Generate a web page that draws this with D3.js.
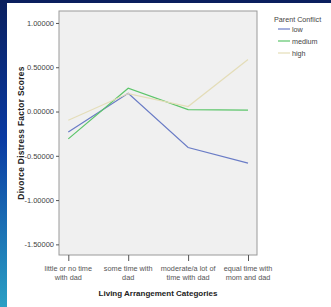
<!DOCTYPE html>
<html><head><meta charset="utf-8">
<script src="https://cdn.jsdelivr.net/npm/d3@7"></script>
<style>body{margin:0;background:#fff;}svg{display:block;}</style>
</head><body>
<script>
const categories = [["little or no time","with dad"],["some time with","dad"],["moderate/a lot of","time with dad"],["equal time with","mom and dad"]];
const seriesNames = ["low","medium","high"];
const low = [-0.23, 0.207, -0.406, -0.583];
const medium = [-0.309, 0.263, 0.022, 0.015];
const high = [-0.098, 0.203, 0.056, 0.587];
const yTicks = [1.0, 0.5, 0.0, -0.5, -1.0, -1.5];
const colors = ["#6a7cc6", "#5cc56a", "#e4ddb8"];
const series = [low, medium, high];

(function(){
const W = 331, H = 307;
const FN = "'Liberation Sans Narrow', 'Arial Narrow', 'Liberation Sans', sans-serif";
const FB = "'Liberation Sans', Arial, sans-serif";
const svg = d3.select("body").append("svg").attr("width", W).attr("height", H);
const defs = svg.append("defs");
const grad = defs.append("linearGradient").attr("id","lg").attr("x1",0).attr("y1",0).attr("x2",0).attr("y2",1);
grad.append("stop").attr("offset","0%").attr("stop-color","#0a1f5e");
grad.append("stop").attr("offset","45%").attr("stop-color","#0a3aa2");
grad.append("stop").attr("offset","100%").attr("stop-color","#2aa0c4");
svg.append("rect").attr("x",0).attr("y",0).attr("width",7).attr("height",H).attr("fill","url(#lg)");
svg.append("rect").attr("x",0).attr("y",0).attr("width",W).attr("height",3).attr("fill","#0a1f5e");

const pL = 59, pR = 257, pT = 11, pB = 255;
const y = d3.scaleLinear().domain([-1.62, 1.135]).range([pB, pT]);
const x = d3.scalePoint().domain(d3.range(categories.length)).range([68.3, 248]);

svg.append("rect").attr("x",pL).attr("y",pT).attr("width",pR-pL).attr("height",pB-pT)
  .attr("fill","#f0f0f0").attr("stroke","#9a9a9a").attr("stroke-width",1);

const fmt = d3.format(".5f");
const yAxis = svg.append("g").attr("transform",`translate(${pL},0)`)
  .call(d3.axisLeft(y).tickValues(yTicks).tickSize(3).tickPadding(2).tickFormat(d => fmt(d).replace("\u2212","-")));
yAxis.select(".domain").remove();
yAxis.selectAll("line").attr("stroke","#555");
yAxis.selectAll("text").attr("font-family",FN).attr("font-size","7.5px").attr("fill","#444");

const xAxis = svg.append("g").attr("transform",`translate(0,${pB})`)
  .call(d3.axisBottom(x).tickSize(6).tickFormat(""));
xAxis.select(".domain").remove();
xAxis.selectAll("line").attr("stroke","#555");

const labs = svg.append("g");
categories.forEach((c,i)=>{
  const t = labs.append("text").attr("x",x(i)).attr("y",270.5).attr("text-anchor","middle")
    .attr("font-family",FN).attr("font-size","7.3px").attr("fill","#555");
  c.forEach((s,j)=>t.append("tspan").attr("x",x(i)).attr("dy", j===0?0:9.3).text(s));
});

const line = d3.line().x((d,i)=>x(i)).y(d=>y(d));
series.forEach((s,k)=>{
  svg.append("path").datum(s).attr("d",line).attr("fill","none").attr("stroke",colors[k]).attr("stroke-width",1.2);
});

svg.append("text").attr("x",158).attr("y",296).attr("text-anchor","middle")
  .attr("font-family",FB).attr("font-weight","bold").attr("font-size","8px").attr("fill","#222")
  .text("Living Arrangement Categories");
svg.append("text").attr("transform","translate(24,133) rotate(-90)").attr("text-anchor","middle")
  .attr("font-family",FB).attr("font-weight","bold").attr("font-size","8.4px").attr("fill","#222")
  .attr("letter-spacing","0.3px")
  .text("Divorce Distress Factor Scores");

const lg = svg.append("g");
lg.append("text").attr("x",274).attr("y",22).attr("font-family",FN).attr("font-size","7.2px").attr("fill","#444").text("Parent Conflict");
seriesNames.forEach((n,k)=>{
  const yy = 29 + k*12;
  lg.append("line").attr("x1",278).attr("x2",290).attr("y1",yy).attr("y2",yy).attr("stroke",colors[k]).attr("stroke-width",1.2);
  lg.append("text").attr("x",292).attr("y",yy+2.7).attr("font-family",FN).attr("font-size","7.2px").attr("fill","#444").text(n);
});
})();
</script>
</body></html>
